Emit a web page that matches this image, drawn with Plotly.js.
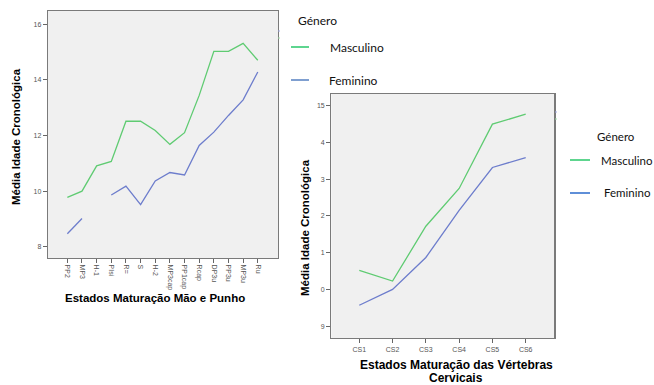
<!DOCTYPE html>
<html>
<head>
<meta charset="utf-8">
<script src="https://cdn.plot.ly/plotly-3.0.1.min.js"></script>
<style>html,body{margin:0;padding:0;background:#fff;}#chart{width:654px;height:385px;}</style>
</head>
<body>
<div id="chart"></div>
<script>
// Left panel: hand & wrist maturation stages
const handStages = ["PP2","MP3","H-1","PIsi","R=","S","H-2","MP3cap","PP1cap","Rcap","DP3u","PP3u","MP3u","Ru"];
const handMasc = [9.78,10.0,10.91,11.07,12.51,12.51,12.18,11.68,12.1,13.44,15.02,15.02,15.31,14.7];
const handFem  = [8.47,9.02,null,9.86,10.18,9.52,10.37,10.67,10.58,11.64,12.12,12.72,13.28,14.28];
const handYTicks = [8,10,12,14,16];
const handYText = ["8","10","12","14","16"];

// Right panel: cervical vertebrae maturation stages
const cervStages = ["CS1","CS2","CS3","CS4","CS5","CS6"];
const cervMasc = [10.52,10.23,11.72,12.75,14.5,14.77];
const cervFem  = [9.57,10.0,10.87,12.15,13.32,13.59];
const cervYTicks = [9,10,11,12,13,14,15];
const cervYText = ["9","0","1","2","3","4","15"];

const green = "#5fcb72";
const blue = "#6d7dcc";
const tickFont = {family:"Liberation Sans, Arial, sans-serif", size:7, color:"#555"};
const titleFont = {family:"Liberation Sans, Arial, sans-serif", size:11.5, color:"#000"};
const legFont = {family:"Lato, 'Open Sans', sans-serif", size:12, color:"#111"};
const legFont2 = {family:"Lato, 'Open Sans', sans-serif", size:11.5, color:"#111"};

const traces = [
  {x:handStages, y:handMasc, type:"scatter", mode:"lines", line:{color:green,width:1.3}, xaxis:"x", yaxis:"y", showlegend:false, name:"Masculino"},
  {x:handStages, y:handFem, type:"scatter", mode:"lines", line:{color:blue,width:1.3}, xaxis:"x", yaxis:"y", showlegend:false, name:"Feminino", connectgaps:false},
  {x:cervStages, y:cervMasc, type:"scatter", mode:"lines", line:{color:green,width:1.3}, xaxis:"x2", yaxis:"y2", showlegend:false, name:"Masculino"},
  {x:cervStages, y:cervFem, type:"scatter", mode:"lines", line:{color:blue,width:1.3}, xaxis:"x2", yaxis:"y2", showlegend:false, name:"Feminino"}
];

const axBase = {showgrid:false, zeroline:false, showline:true, mirror:true, linecolor:"#7a7a7a", linewidth:1.2,
  ticks:"outside", ticklen:4, tickcolor:"#666", tickfont:tickFont};

const layout = {
  width:654, height:385,
  margin:{l:0,r:0,t:0,b:0},
  paper_bgcolor:"#ffffff",
  plot_bgcolor:"#f0f0f0",
  showlegend:false,
  xaxis:Object.assign({}, axBase, {domain:[0.0734,0.4251], range:[-1.32,14.38], tickangle:90, type:"category"}),
  yaxis:Object.assign({}, axBase, {domain:[0.3299,0.9714], range:[7.6,16.47], tickvals:handYTicks, ticktext:handYText}),
  xaxis2:Object.assign({}, axBase, {domain:[0.5066,0.8476], range:[-0.84,5.86], type:"category", anchor:"y2"}),
  yaxis2:Object.assign({}, axBase, {domain:[0.1213,0.7558], range:[8.67,15.32], tickvals:cervYTicks, ticktext:cervYText, anchor:"x2"}),
  annotations:[
    {text:"<b>Média Idade Cronológica</b>", xref:"paper", yref:"paper", x:16/654, y:1-137/385, textangle:-90, showarrow:false, font:titleFont, xanchor:"center", yanchor:"middle"},
    {text:"<b>Estados Maturação Mão e Punho</b>", xref:"paper", yref:"paper", x:155/654, y:1-298/385, showarrow:false, font:titleFont, xanchor:"center", yanchor:"middle"},
    {text:"<b>Média Idade Cronológica</b>", xref:"paper", yref:"paper", x:305/654, y:1-228/385, textangle:-90, showarrow:false, font:titleFont, xanchor:"center", yanchor:"middle"},
    {text:"<b>Estados Maturação das Vértebras</b>", xref:"paper", yref:"paper", x:456/654, y:1-365/385, showarrow:false, font:{family:titleFont.family, size:12, color:"#000"}, xanchor:"center", yanchor:"middle"},
    {text:"<b>Cervicais</b>", xref:"paper", yref:"paper", x:456/654, y:1-378/385, showarrow:false, font:{family:titleFont.family, size:12, color:"#000"}, xanchor:"center", yanchor:"middle"},
    {text:"Género", xref:"paper", yref:"paper", x:296/654, y:1-20/385, showarrow:false, font:legFont, xanchor:"left", yanchor:"middle"},
    {text:"Masculino", xref:"paper", yref:"paper", x:328/654, y:1-47/385, showarrow:false, font:legFont, xanchor:"left", yanchor:"middle"},
    {text:"Feminino", xref:"paper", yref:"paper", x:327/654, y:1-80/385, showarrow:false, font:legFont, xanchor:"left", yanchor:"middle"},
    {text:"Género", xref:"paper", yref:"paper", x:595/654, y:1-136/385, showarrow:false, font:legFont2, xanchor:"left", yanchor:"middle"},
    {text:"Masculino", xref:"paper", yref:"paper", x:599/654, y:1-160/385, showarrow:false, font:legFont2, xanchor:"left", yanchor:"middle"},
    {text:"Feminino", xref:"paper", yref:"paper", x:602/654, y:1-193/385, showarrow:false, font:legFont2, xanchor:"left", yanchor:"middle"}
  ],
  shapes:[
    {type:"line", xref:"paper", yref:"paper", x0:291/654, x1:309/654, y0:1-47/385, y1:1-47/385, line:{color:"#5ed58f", width:2}},
    {type:"line", xref:"paper", yref:"paper", x0:291/654, x1:309/654, y0:1-80/385, y1:1-80/385, line:{color:"#7f9fd0", width:2}},
    {type:"line", xref:"paper", yref:"paper", x0:570/654, x1:590/654, y0:1-160/385, y1:1-160/385, line:{color:"#5ed58f", width:2}},
    {type:"line", xref:"paper", yref:"paper", x0:570/654, x1:590/654, y0:1-193/385, y1:1-193/385, line:{color:"#5f8fd8", width:2}},
    {type:"line", xref:"paper", yref:"paper", x0:278/654, x1:280/654, y0:1-31/385, y1:1-31/385, line:{color:"#a0a8e0", width:1}},
    {type:"line", xref:"paper", yref:"paper", x0:278/654, x1:280/654, y0:1-38/385, y1:1-38/385, line:{color:"#a0dca8", width:1}},
    {type:"line", xref:"paper", yref:"paper", x0:555/654, x1:557/654, y0:1-112/385, y1:1-112/385, line:{color:"#a0a8e0", width:1}},
    {type:"line", xref:"paper", yref:"paper", x0:555/654, x1:557/654, y0:1-119/385, y1:1-119/385, line:{color:"#a0dca8", width:1}}
  ]
};

Plotly.newPlot("chart", traces, layout, {staticPlot:true, displayModeBar:false});
</script>
</body>
</html>
